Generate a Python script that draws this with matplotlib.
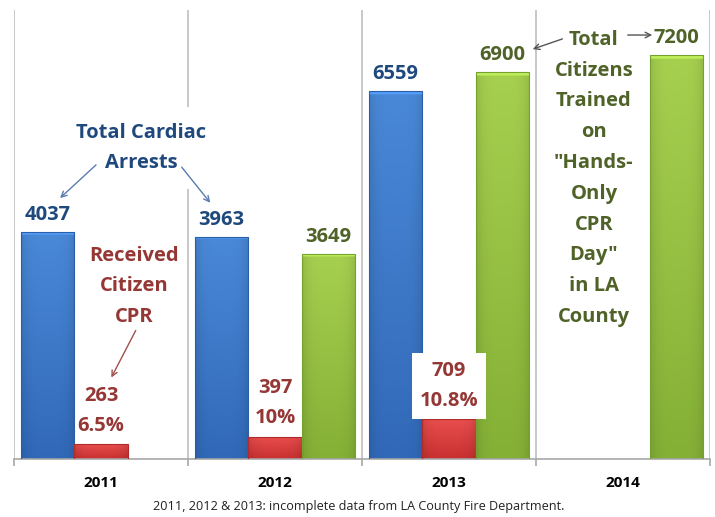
import matplotlib.pyplot as plt
import numpy as np
from matplotlib.colors import to_rgb

years = ['2011', '2012', '2013', '2014']
cardiac_arrests = [4037, 3963, 6559, None]
citizen_cpr = [263, 397, 709, None]
cpr_share = ['6.5%', '10%', '10.8%', None]
trained = [None, 3649, 6900, 7200]

BLUE_TXT = '#1f497d'
RED_TXT = '#953735'
GREEN_TXT = '#4f6228'

plt.rcParams['font.family'] = ['Open Sans', 'DejaVu Sans']


def gradient_bars(ax, xs, heights, width, top, bottom, edge):
    """Bars filled with a vertical gradient, light at the top."""
    bars = ax.bar(xs, heights, width, facecolor='none', edgecolor=edge,
                  linewidth=0.8, zorder=3)
    t = np.array(to_rgb(top))
    b = np.array(to_rgb(bottom))
    k = np.linspace(0, 1, 256)[:, None]
    grad = (t * (1 - k) + b * k)[:, None, :]
    # slightly darker at both sides
    side = 1 - 0.10 * np.abs(np.linspace(-1, 1, 32)) ** 4
    grad = grad * side[None, :, None]
    grad[:3] = np.clip(t * 1.15, 0, 1)
    for bar in bars:
        x0, w, h = bar.get_x(), bar.get_width(), bar.get_height()
        im = ax.imshow(grad, extent=(x0, x0 + w, 0, h), aspect='auto',
                       origin='upper', zorder=2, interpolation='bilinear')
        im.set_clip_path(bar)
    return bars


fig = plt.figure(figsize=(7.15, 5.17), dpi=100)
ax = fig.add_axes([14 / 715, 58 / 517, 696 / 715, 449 / 517])

width = 0.308
centers = np.arange(len(years)) + 0.5

# blue / red / green slots within each year
bx = [c - width for c, v in zip(centers, cardiac_arrests) if v is not None]
bv = [v for v in cardiac_arrests if v is not None]
rx = [c for c, v in zip(centers, citizen_cpr) if v is not None]
rv = [v for v in citizen_cpr if v is not None]
rp = [p for p in cpr_share if p is not None]
gx = [c + width for c, v in zip(centers, trained) if v is not None]
gv = [v for v in trained if v is not None]

gradient_bars(ax, bx, bv, width, '#4a89d8', '#3169b8', '#2a5fa8')
gradient_bars(ax, rx, rv, width, '#e94e4e', '#c83030', '#b02a2a')
gradient_bars(ax, gx, gv, width, '#a6d04f', '#84b036', '#76a030')

ax.set_xlim(0, 4)
ax.set_ylim(0, 8000)

# separators between years
ax.vlines(np.arange(len(years) + 1), 0, 8000, color='#c4c4c4', lw=1.3, zorder=1)

for s in ['top', 'left', 'right']:
    ax.spines[s].set_visible(False)
ax.spines['bottom'].set_color('#a8a8a8')
ax.spines['bottom'].set_linewidth(1.2)
ax.set_yticks([])
ax.set_xticks(np.arange(len(years) + 1))
ax.set_xticklabels([])
ax.tick_params(axis='x', which='major', length=5, color='#a8a8a8', width=1.2)
ax.set_xticks(centers, minor=True)
ax.set_xticklabels(years, minor=True, fontsize=11, fontweight='bold')
ax.tick_params(axis='x', which='minor', length=0, pad=12)

FS = 14.5
LS = 1.66

# value labels
for x, v in zip(bx, bv):
    ax.annotate(str(v), (x, v), xytext=(0, 5), textcoords='offset points',
                ha='center', va='bottom', fontsize=FS, fontweight='bold',
                color=BLUE_TXT, zorder=5)
for x, v in zip(gx, gv):
    ax.annotate(str(v), (x, v), xytext=(0, 5), textcoords='offset points',
                ha='center', va='bottom', fontsize=FS, fontweight='bold',
                color=GREEN_TXT, zorder=5)
for i, (x, v) in enumerate(zip(rx, rv)):
    box = dict(boxstyle='square,pad=0.4', fc='white', ec='none') if i == 2 else None
    ax.annotate(f'{v}\n{rp[i]}', (x, v), xytext=(0, 6), textcoords='offset points',
                ha='center', va='bottom', fontsize=FS, fontweight='bold',
                color=RED_TXT, linespacing=LS, bbox=box, zorder=5)

# callouts (baseline = last line)
ax.text(0.730, 5185, 'Total Cardiac\nArrests', ha='center', va='baseline',
        fontsize=FS, fontweight='bold', color=BLUE_TXT, linespacing=LS,
        bbox=dict(boxstyle='square,pad=0.8', fc='white', ec='none'), zorder=4)
ax.annotate('', xy=(0.253, 4615), xytext=(0.483, 5274),
            arrowprops=dict(arrowstyle='->', color='#5b7cb0', lw=1), zorder=6)
ax.annotate('', xy=(1.138, 4526), xytext=(0.954, 5238),
            arrowprops=dict(arrowstyle='->', color='#5b7cb0', lw=1), zorder=6)

ax.text(0.690, 2441, 'Received\nCitizen\nCPR', ha='center', va='baseline',
        fontsize=FS, fontweight='bold', color=RED_TXT, linespacing=1.7, zorder=4)
ax.annotate('', xy=(0.552, 1408), xytext=(0.707, 2334),
            arrowprops=dict(arrowstyle='->', color='#a0504e', lw=1), zorder=6)

ax.text(3.333, 2441, 'Total\nCitizens\nTrained\non\n"Hands-\nOnly\nCPR\nDay"\nin LA\nCounty',
        ha='center', va='baseline', fontsize=FS, fontweight='bold',
        color=GREEN_TXT, linespacing=1.72, zorder=4)
ax.annotate('', xy=(2.966, 7287), xytext=(3.167, 7501),
            arrowprops=dict(arrowstyle='->', color='#555555', lw=1), zorder=6)
ax.annotate('', xy=(3.684, 7554), xytext=(3.511, 7554),
            arrowprops=dict(arrowstyle='->', color='#555555', lw=1), zorder=6)

fig.text(0.502, 0.0135, '2011, 2012 & 2013: incomplete data from LA County Fire Department.',
         ha='center', va='baseline', fontsize=9.1, color='#222222')

fig.savefig('out.png', dpi=100)
